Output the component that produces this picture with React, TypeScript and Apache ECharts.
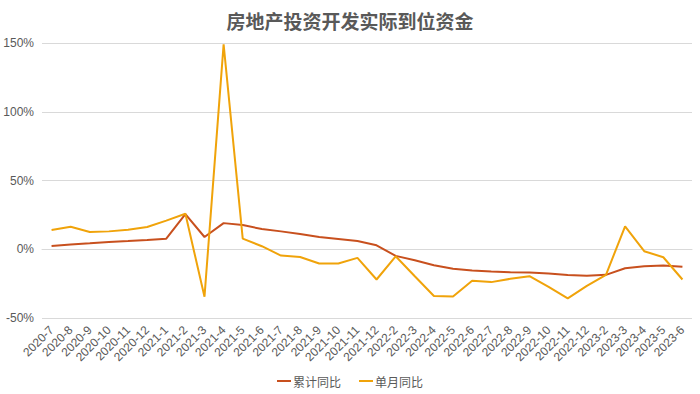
import React, { useEffect, useRef } from "react";
import * as echarts from "echarts";

const categories = [
  "2020-7", "2020-8", "2020-9", "2020-10", "2020-11", "2020-12",
  "2021-1", "2021-2", "2021-3", "2021-4", "2021-5", "2021-6", "2021-7", "2021-8", "2021-9", "2021-10", "2021-11", "2021-12",
  "2022-2", "2022-3", "2022-4", "2022-5", "2022-6", "2022-7", "2022-8", "2022-9", "2022-10", "2022-11", "2022-12",
  "2023-2", "2023-3", "2023-4", "2023-5", "2023-6",
];

const cumulative = [
  2.4, 3.4, 4.3, 5.3, 6.0, 6.8,
  7.7, 25.5, 8.9, 19.0, 17.6, 14.7, 13.0, 11.1, 8.9, 7.5, 6.0, 2.9,
  -4.8, -8.0, -11.6, -14.2, -15.5, -16.2, -16.7, -16.9, -17.7, -18.8, -19.3,
  -18.6, -13.8, -12.3, -11.8, -12.8,
];

const monthly = [
  14.0, 16.4, 12.6, 13.0, 14.2, 16.2,
  20.8, 25.8, -34.5, 149.0, 7.7, 2.2, -4.6, -5.6, -10.4, -10.4, -6.3, -22.0,
  -5.1, -19.6, -34.0, -34.3, -22.9, -23.9, -21.5, -19.6, -27.3, -35.7, -26.6,
  -18.6, 16.7, -1.4, -5.8, -22.0,
];

const yTicks = { min: -50, max: 150, interval: 50 };

export default function App() {
  const ref = useRef<HTMLDivElement>(null);
  useEffect(() => {
    if (!ref.current) return;
    const chart = echarts.init(ref.current, undefined, { renderer: "svg" });
    const cjk = "'Microsoft YaHei', 'Noto Sans CJK SC', sans-serif";
    const latin = "'Liberation Sans', Arial, 'Noto Sans CJK SC', sans-serif";
    chart.setOption({
      animation: false,
      backgroundColor: "#ffffff",
      title: {
        text: "房地产投资开发实际到位资金",
        left: "center",
        top: 6,
        textStyle: { fontSize: 19, fontWeight: "bold", color: "#595959", fontFamily: cjk },
      },
      legend: {
        bottom: 2,
        left: "center",
        icon: "rect",
        itemWidth: 14,
        itemHeight: 2,
        itemGap: 18,
        textStyle: { fontSize: 12, color: "#595959", fontFamily: cjk, padding: [0, 0, 0, -3] },
        data: ["累计同比", "单月同比"],
      },
      grid: { left: 42, right: 8, top: 43, bottom: 76, containLabel: false },
      xAxis: {
        type: "category",
        data: categories,
        boundaryGap: true,
        axisLine: { lineStyle: { color: "#d9d9d9" } },
        axisTick: { show: false },
        axisLabel: { rotate: 45, interval: 0, fontSize: 12, color: "#595959", margin: 10, fontFamily: latin },
      },
      yAxis: {
        type: "value",
        min: yTicks.min,
        max: yTicks.max,
        interval: yTicks.interval,
        axisLine: { show: false },
        axisTick: { show: false },
        splitLine: { lineStyle: { color: "#d9d9d9" } },
        axisLabel: { formatter: "{value}%", fontSize: 12, color: "#595959", margin: 8, fontFamily: latin },
      },
      series: [
        {
          name: "累计同比",
          type: "line",
          data: cumulative,
          symbol: "none",
          lineStyle: { width: 2, color: "#C8501E" },
          itemStyle: { color: "#C8501E" },
        },
        {
          name: "单月同比",
          type: "line",
          data: monthly,
          symbol: "none",
          lineStyle: { width: 2, color: "#F0A30A" },
          itemStyle: { color: "#F0A30A" },
        },
      ],
    });
    return () => chart.dispose();
  }, []);
  return <div ref={ref} style={{ width: 700, height: 394, position: "absolute", left: 0, top: 0 }} />;
}
